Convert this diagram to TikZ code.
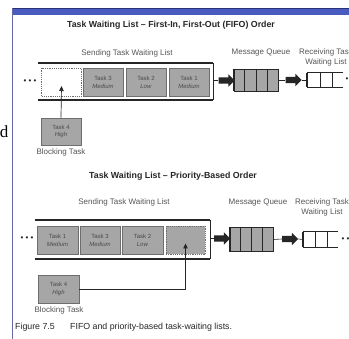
\documentclass[tikz,border=0pt]{standalone}
\usepackage{fontspec}
\setmainfont{Liberation Sans}
\newfontfamily\seriff{Liberation Serif}
\usetikzlibrary{shapes.arrows,arrows.meta,calc}

\definecolor{band}{HTML}{4A5BC0}
\definecolor{bandedge}{HTML}{26327A}
\definecolor{frameline}{HTML}{6468A6}
\definecolor{cellfill}{HTML}{A6A6A6}
\definecolor{celledge}{HTML}{6E6E6E}
\definecolor{ink}{HTML}{262626}
\definecolor{labelink}{HTML}{555555}
\definecolor{cellink}{HTML}{4A4A4A}

\tikzset{
  titletext/.style={anchor=base, inner sep=0pt, text=ink, font=\bfseries\fontsize{8.8}{10}\selectfont},
  labeltext/.style={anchor=base, inner sep=0pt, text=labelink, font=\fontsize{8}{10}\selectfont},
  twolabel/.style={inner sep=0pt, text=labelink, align=center, font=\fontsize{8}{10}\selectfont},
  captiontext/.style={anchor=base west, inner sep=0pt, text=ink, font=\fontsize{8.8}{10}\selectfont},
  taskcell/.style={draw=celledge, fill=cellfill, line width=0.7pt, minimum width=40pt,
    minimum height=28pt, inner sep=0pt, align=center, text=cellink,
    font=\fontsize{6}{7.5}\selectfont},
  freecell/.style={taskcell, dashed, dash pattern=on 1.2pt off 1pt},
  listframe/.style={minimum width=175pt, minimum height=37pt, inner sep=0pt},
  framerail/.style={ink, line width=1.6pt},
  frameend/.style={ink, line width=0.7pt},
  blockarrow/.style={single arrow, fill=ink, draw=none, minimum height=16pt,
    minimum width=12pt, single arrow head extend=3pt, inner sep=3pt},
  queuebox/.style={draw=ink, fill=cellfill, line width=0.9pt, minimum width=44pt,
    minimum height=22pt, inner sep=0pt},
  recvbox/.style={minimum width=36pt, minimum height=14pt, inner sep=0pt},
  thinlink/.style={ink, line width=0.6pt},
  dotrow/.style={inner sep=0pt, text=ink, font=\fontsize{8}{8}\selectfont},
  blockmove/.style={ink, line width=0.7pt, -{Triangle[length=5pt,width=4.5pt]}}
}

\begin{document}
\begin{tikzpicture}[x=1pt,y=-1pt]
\useasboundingbox (0,0) rectangle (349,339);
\fill[white] (0,0) rectangle (349,339);

% slide header band and left rule
\fill[band] (12,8) rectangle (349,15);
\draw[bandedge, line width=0.8pt] (12,8) -- (349,8);
\draw[frameline, line width=0.9pt] (12,8) -- (12,339);
\node[anchor=base east, inner sep=0pt, font=\seriff\fontsize{17}{17}\selectfont] (sidechar) at (8.5,138) {d};

% ---------------- FIFO order ----------------
\node[titletext] (title1) at (171,28) {Task Waiting List -- First-In, First-Out (FIFO) Order};
\node[labeltext] (send1) at (127,56) {Sending Task Waiting List};
\node[labeltext] (mq1) at (261,55) {Message Queue};
\node[twolabel] (rl1) at (326,57) {Receiving Task\\Waiting List};

\node[listframe] (list1) at (125.5,81.5) {};
\draw[framerail] (list1.north west) -- (list1.north east);
\draw[framerail] (list1.south west) -- (list1.south east);
\draw[frameend] (list1.north east) -- (list1.south east);

\node[dotrow] (dots1) at (30,82) {\textbullet\hspace{2.2pt}\textbullet\hspace{2.2pt}\textbullet};
\node[freecell, fill=white] (e1) at (61.5,82.5) {};
\node[taskcell] (t13) at (103,82.5) {Task 3\\\textit{Medium}};
\node[taskcell] (t12) at (146,82.5) {Task 2\\\textit{Low}};
\node[taskcell] (t11) at (189,82.5) {Task 1\\\textit{Medium}};

\node[blockarrow] (a11) at (225,80.5) {};
\node[queuebox] (q1) at (256,80) {};
\foreach \f in {0.25,0.5,0.75}
  \draw[ink, line width=0.8pt] ($(q1.north west)!\f!(q1.north east)$) -- ($(q1.south west)!\f!(q1.south east)$);
\draw[ink, line width=1.8pt] (q1.north west) -- (q1.south west);
\draw[ink, line width=1.8pt] (q1.north east) -- (q1.south east);
\node[blockarrow] (a12) at (292,80) {};
\node[recvbox] (r1) at (325,80) {};
\draw[thinlink, line width=0.8pt] (r1.north west) -- (r1.north east);
\draw[thinlink, line width=0.8pt] (r1.south west) -- (r1.south east);
\draw[ink, line width=1.4pt] (r1.north west) -- (r1.south west);
\foreach \f in {0.36,0.7}
  \draw[thinlink, line width=0.8pt] ($(r1.north west)!\f!(r1.north east)$) -- ($(r1.south west)!\f!(r1.south east)$);
\node[dotrow, anchor=west] (dots12) at (345.5,80) {\textbullet\hspace{2.2pt}\textbullet\hspace{2.2pt}\textbullet};

\draw[thinlink] (list1.east |- a11.tail) -- (a11.tail);
\draw[thinlink] (a11.tip) -- (q1.west);
\draw[thinlink] (q1.east) -- (a12.tail);
\draw[thinlink] (a12.tip) -- (r1.west);

\node[taskcell, minimum height=27pt] (b1) at (61,131.5) {Task 4\\\textit{High}};
\node[labeltext] (bl1) at (61,155) {Blocking Task};
\draw[blockmove] (b1.north) -- ($(e1.center)+(0,3.5)$);

% ---------------- Priority-based order ----------------
\node[titletext] (title2) at (173,179) {Task Waiting List -- Priority-Based Order};
\node[labeltext] (send2) at (124,205) {Sending Task Waiting List};
\node[labeltext] (mq2) at (258,205) {Message Queue};
\node[twolabel] (rl2) at (322,207) {Receiving Task\\Waiting List};

\node[listframe, minimum height=39pt] (list2) at (122.5,239.5) {};
\draw[framerail] (list2.north west) -- (list2.north east);
\draw[framerail] (list2.south west) -- (list2.south east);
\draw[frameend] (list2.north east) -- (list2.south east);

\node[dotrow] (dots2) at (27,239) {\textbullet\hspace{2.2pt}\textbullet\hspace{2.2pt}\textbullet};
\node[taskcell, minimum width=41pt] (t21) at (57.5,240.5) {Task 1\\\textit{Medium}};
\node[taskcell] (t23) at (100,240.5) {Task 3\\\textit{Medium}};
\node[taskcell, minimum width=41pt] (t22) at (142.5,240.5) {Task 2\\\textit{Low}};
\node[freecell, minimum width=39pt] (e2) at (185.5,240.5) {};

\node[blockarrow] (a21) at (220.5,238.5) {};
\node[queuebox, minimum width=43pt, minimum height=24pt] (q2) at (251.5,239.5) {};
\foreach \f in {0.25,0.5,0.75}
  \draw[ink, line width=0.8pt] ($(q2.north west)!\f!(q2.north east)$) -- ($(q2.south west)!\f!(q2.south east)$);
\draw[ink, line width=1.8pt] (q2.north west) -- (q2.south west);
\draw[ink, line width=1.8pt] (q2.north east) -- (q2.south east);
\node[blockarrow] (a22) at (288.5,239) {};
\node[recvbox, minimum width=35pt, minimum height=15pt] (r2) at (320.5,239.5) {};
\draw[thinlink, line width=0.8pt] (r2.north west) -- (r2.north east);
\draw[thinlink, line width=0.8pt] (r2.south west) -- (r2.south east);
\draw[ink, line width=1.4pt] (r2.north west) -- (r2.south west);
\foreach \f in {0.36,0.7}
  \draw[thinlink, line width=0.8pt] ($(r2.north west)!\f!(r2.north east)$) -- ($(r2.south west)!\f!(r2.south east)$);
\node[dotrow, anchor=west] (dots22) at (341.5,239.5) {\textbullet\hspace{2.2pt}\textbullet\hspace{2.2pt}\textbullet};

\draw[thinlink] (list2.east |- a21.tail) -- (a21.tail);
\draw[thinlink] (a21.tip) -- (q2.west);
\draw[thinlink] (q2.east) -- (a22.tail);
\draw[thinlink] (a22.tip) -- (r2.west);

\node[taskcell, minimum width=41pt] (b2) at (58.5,289) {Task 4\\\textit{High}};
\node[labeltext] (bl2) at (59,313) {Blocking Task};
\draw[blockmove] (b2.east) -- (b2.east -| e2.center) -- ($(e2.center)+(0,3)$);

% caption
\node[captiontext] (figno) at (15,330) {Figure 7.5};
\node[captiontext] (figcap) at (70,330) {FIFO and priority-based task-waiting lists.};
\end{tikzpicture}
\end{document}
